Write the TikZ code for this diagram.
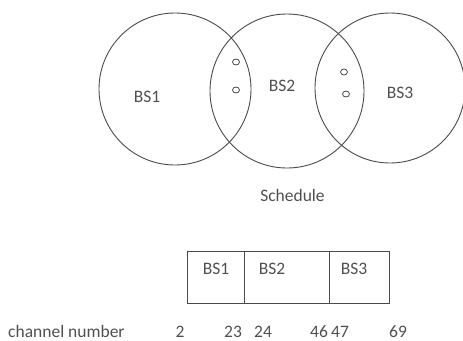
\documentclass[tikz,border=0pt]{standalone}
\usepackage{fontspec}
\setmainfont{Carlito}
\usetikzlibrary{shapes.geometric}
\definecolor{ink}{HTML}{4A4A4A}
\definecolor{txtc}{HTML}{505050}
\tikzset{
  cell/.style={draw=ink, line width=0.9pt, rectangle, inner sep=0pt, minimum height=52pt},
  cov/.style={draw=ink, line width=0.9pt, circle, inner sep=0pt},
  dot/.style={draw=ink, line width=0.8pt, ellipse, inner sep=0pt, minimum width=7pt, minimum height=6pt},
  lbl/.style={text=txtc, font=\fontsize{17.5}{19}\selectfont, inner sep=0pt},
  num/.style={lbl, anchor=base, text depth=0pt}
}
\begin{document}
\begin{tikzpicture}[x=1pt,y=-1pt]
\useasboundingbox (0,0) rectangle (463,340);
% coverage circles
\node[cov, minimum size=152pt] (c1) at (175,89) {};
\node[cov, minimum size=154pt] (c2) at (287,91) {};
\node[cov, minimum size=150pt] (c3) at (390,88) {};
\node[lbl] (l1) at (147,97) {BS1};
\node[lbl] (l2) at (282,86) {BS2};
\node[lbl] (l3) at (400,93) {BS3};
% users in overlaps
\node[dot] (u1) at (236,62) {};
\node[dot] (u2) at (236,90) {};
\node[dot] (u3) at (344,72) {};
\node[dot] (u4) at (346,94) {};
% schedule
\node[lbl] (sch) at (292.5,195) {Schedule};
\node[cell, minimum width=57pt] (b1) at (215.5,277) {};
\node[cell, minimum width=85pt] (b2) at (286.5,277) {};
\node[cell, minimum width=60pt] (b3) at (359,277) {};
\node[lbl] (t1) at (216,269) {BS1};
\node[lbl] (t2) at (272,269) {BS2};
\node[lbl] (t3) at (354,269) {BS3};
% channel numbers
\node[num, anchor=base west] (cn) at (8,337) {channel number};
\node[num] (n1) at (180,337) {2};
\node[num] (n2) at (233,337) {23};
\node[num] (n3) at (263,337) {24};
\node[num] (n4) at (319,337) {46};
\node[num] (n5) at (340,337) {47};
\node[num] (n6) at (398,337) {69};
\end{tikzpicture}
\end{document}
